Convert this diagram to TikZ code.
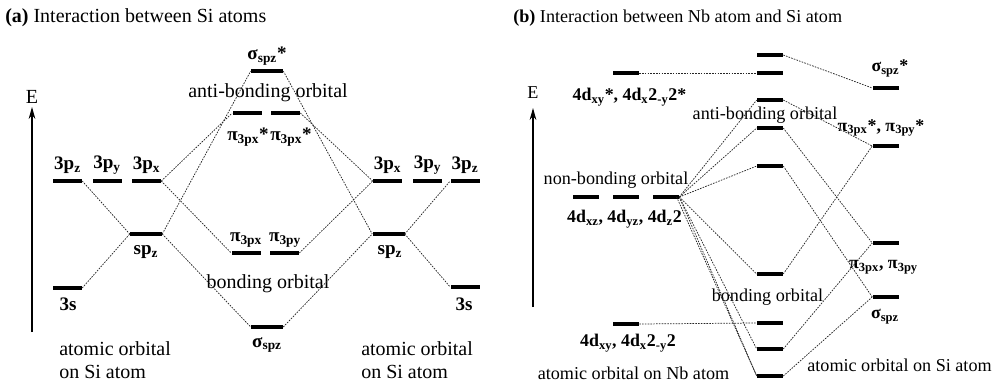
\documentclass[tikz,border=0pt]{standalone}
\usepackage{fontspec}
\setmainfont{Liberation Serif}
\usetikzlibrary{arrows.meta}
\newcommand\lsub[1]{\textsubscript{#1}}
\begin{document}
\begin{tikzpicture}[x=0.75pt,y=-0.75pt,
 bar/.style={fill=black, inner sep=0pt, minimum height=3.4pt, minimum width=21.75pt},
 wbar/.style={bar, minimum width=24pt},
 nbar/.style={bar, minimum width=19.5pt},
 conn/.style={line width=0.55pt, dash pattern=on 1.2pt off 0.9pt, black!85},
 ta/.style={font=\fontsize{15}{17}\selectfont, inner sep=0pt},
 tb/.style={font=\fontsize{13.6}{16}\selectfont, inner sep=0pt},
 la/.style={font=\fontsize{14.3}{16}\selectfont\bfseries, inner sep=0pt},
 lb/.style={font=\fontsize{13.4}{16}\selectfont\bfseries, inner sep=0pt},
 earrow/.style={-{Stealth[length=9pt,width=5pt]}, line width=0.8pt}]
\useasboundingbox (0,0) rectangle (993,383);

% ---------------- panel (a) ----------------
\node[ta, anchor=west] (titA) at (5,18) {\textbf{(a)} Interaction between Si atoms};
\coordinate (Ea0) at (32,332);
\coordinate (Ea1) at (32,107);
\draw[earrow] (Ea0) -- (Ea1);
\node[ta] (EA) at (32,97) {E};

% left atom
\node[bar] (L3pz) at (67.5,181) {};
\node[bar] (L3py) at (107,181) {};
\node[bar] (L3px) at (146.5,181) {};
\node[wbar] (Lsp) at (146,234) {};
\node[bar] (L3s) at (67.5,288) {};
% molecular
\node[wbar] (Sst) at (267,71) {};
\node[bar] (Pst1) at (247,113) {};
\node[bar] (Pst2) at (285.5,113) {};
\node[bar] (Pb1) at (246,253) {};
\node[bar] (Pb2) at (284.5,253) {};
\node[wbar] (Sb) at (267,327) {};
% right atom
\node[bar] (R3px) at (387.5,181) {};
\node[bar] (R3py) at (427.5,181) {};
\node[bar] (R3pz) at (465,181) {};
\node[wbar] (Rsp) at (388.5,234) {};
\node[bar] (R3s) at (465,287) {};

% labels (a)
\node[la] (lL3pz) at (67.5,165) {3p\lsub{z}};
\node[la] (lL3py) at (107,165) {3p\lsub{y}};
\node[la] (lL3px) at (146.5,165) {3p\lsub{x}};
\node[la] (lLsp) at (146,252) {sp\lsub{z}};
\node[la] (lL3s) at (68,304) {3s};
\node[la] (lSst) at (267,56) {σ\lsub{spz}*};
\node[ta] (lanti) at (268,93) {anti-bonding orbital};
\node[la] (lPst1) at (248,137) {π\lsub{3px}*};
\node[la] (lPst2) at (291,137) {π\lsub{3px}*};
\node[la] (lPb1) at (246,240) {π\lsub{3px}};
\node[la] (lPb2) at (285,240) {π\lsub{3py}};
\node[ta] (lbond) at (268,284) {bonding orbital};
\node[la] (lSb) at (267,345) {σ\lsub{spz}};
\node[la] (lR3px) at (387.5,165) {3p\lsub{x}};
\node[la] (lR3py) at (427.5,165) {3p\lsub{y}};
\node[la] (lR3pz) at (465,165) {3p\lsub{z}};
\node[la] (lRsp) at (390,252) {sp\lsub{z}};
\node[la] (lR3s) at (464,304) {3s};
\node[ta, anchor=west, align=left] (lLatom) at (59,360) {atomic orbital\\on Si atom};
\node[ta, anchor=west, align=left] (lRatom) at (361,360) {atomic orbital\\on Si atom};

% connectors (a)
\draw[conn] (L3pz.east) -- (Lsp.west);
\draw[conn] (L3s.east) -- (Lsp.west);
\draw[conn] (Lsp.east) -- (Sst.west);
\draw[conn] (Lsp.east) -- (Sb.west);
\draw[conn] (L3px.east) -- (Pst1.west);
\draw[conn] (L3px.east) -- (Pb1.west);
\draw[conn] (Pst2.east) -- (R3px.west);
\draw[conn] (Pb2.east) -- (R3px.west);
\draw[conn] (Sst.east) -- (Rsp.west);
\draw[conn] (Sb.east) -- (Rsp.west);
\draw[conn] (Rsp.east) -- (R3pz.west);
\draw[conn] (Rsp.east) -- (R3s.west);

% ---------------- panel (b) ----------------
\node[tb, anchor=west] (titB) at (513,18) {\textbf{(b)} Interaction between Nb atom and Si atom};
\coordinate (Eb0) at (533,307);
\coordinate (Eb1) at (533,108);
\draw[earrow] (Eb0) -- (Eb1);
\node[tb] (EB) at (533,93) {E};

% Nb atom
\node[nbar] (B1) at (626,73) {};
\node[nbar] (N1) at (586,197) {};
\node[nbar] (N2) at (626,197) {};
\node[nbar] (N3) at (666,197) {};
\node[nbar] (B2) at (626,324) {};
% centre
\node[nbar] (C1) at (770,55) {};
\node[nbar] (C2) at (770,73) {};
\node[nbar] (C3) at (770,100) {};
\node[nbar] (C4) at (770,128) {};
\node[nbar] (C5) at (770,166) {};
\node[nbar] (C6) at (770,274) {};
\node[nbar] (C7) at (770,323) {};
\node[nbar] (C8) at (770,349) {};
\node[nbar] (C9) at (770,376) {};
% Si atom
\node[nbar] (R1) at (885.5,88) {};
\node[nbar] (R2) at (885.5,146) {};
\node[nbar] (R3) at (885.5,243) {};
\node[nbar] (R4) at (885.5,297) {};

% labels (b)
\node[lb] (lB1) at (629.5,97) {4d\lsub{xy}*, 4d\lsub{x}2\lsub{-y}2*};
\node[tb] (lnon) at (616,180) {non-bonding orbital};
\node[lb] (lN) at (624.5,219) {4d\lsub{xz}, 4d\lsub{yz}, 4d\lsub{z}2};
\node[lb] (lB2) at (628,343) {4d\lsub{xy}, 4d\lsub{x}2\lsub{-y}2};
\node[tb] (lNb) at (633.5,373) {atomic orbital on Nb atom};
\node[tb] (lantiB) at (765,115) {anti-bonding orbital};
\node[lb] (lR1) at (890,68) {σ\lsub{spz}*};
\node[lb] (lR2) at (881,128) {π\lsub{3px}*, π\lsub{3py}*};
\node[tb] (lbondB) at (767.5,297) {bonding orbital};
\node[lb] (lR3) at (883.5,267) {π\lsub{3px}, π\lsub{3py}};
\node[lb] (lR4) at (885,317) {σ\lsub{spz}};
\node[tb] (lSi) at (899.5,365) {atomic orbital on Si atom};

% connectors (b)
\draw[conn] (B1.east) -- (C2.west);
\draw[conn] (B2.east) -- (C7.west);
\draw[conn] (C1.east) -- (R1.west);
\draw[conn] (C3.east) -- (R2.west);
\draw[conn] (C4.east) -- (R3.west);
\draw[conn] (C5.east) -- (R4.west);
\draw[conn] (C6.east) -- (R2.west);
\draw[conn] (C8.east) -- (R3.west);
\draw[conn] (C9.east) -- (R4.west);
\draw[conn] (N3.east) -- (C3.west);
\draw[conn] (N3.east) -- (C4.west);
\draw[conn] (N3.east) -- (C5.west);
\draw[conn] (N3.east) -- (C6.west);
\draw[conn] (N3.east) -- (C8.west);
\draw[conn] (N3.east) -- (C9.west);
\draw[conn] ([xshift=-2pt]N3.east) -- (C9.west);
\end{tikzpicture}
\end{document}
